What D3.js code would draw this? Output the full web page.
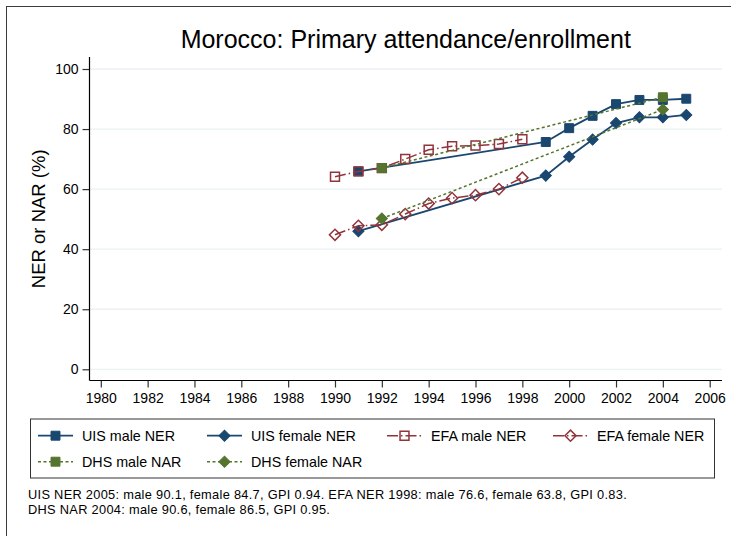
<!DOCTYPE html>
<html>
<head>
<meta charset="utf-8">
<script src="https://cdn.jsdelivr.net/npm/d3@7"></script>
<style>
  body { margin: 0; background: #ffffff; }
  text { font-family: "Liberation Sans", Arial, Helvetica, sans-serif; fill: #000; }
</style>
</head>
<body>
<div id="chart"></div>
<script>
//=========Data=========//
var uisYears = [1991, 1999, 2000, 2001, 2002, 2003, 2004, 2005];
var uisMale = [65.9, 75.7, 80.3, 84.4, 88.3, 89.7, 89.7, 90.1];
var uisFemale = [46.0, 64.5, 70.8, 76.5, 82.0, 83.9, 83.9, 84.7];

var efaYears = [1990, 1991, 1992, 1993, 1994, 1995, 1996, 1997, 1998];
var efaMale = [64.1, 65.9, 67.0, 70.0, 73.1, 74.3, 74.5, 75.0, 76.6];
var efaFemale = [44.8, 47.8, 48.1, 51.7, 55.2, 57.0, 58.0, 60.0, 63.8];

var dhsYears = [1992, 2004];
var dhsMale = [67.0, 90.6];
var dhsFemale = [50.2, 86.5];

var xTicks = d3.range(1980, 2007, 2);
var yTicks = [0, 20, 40, 60, 80, 100];

var titleText = "Morocco: Primary attendance/enrollment";
var yTitle = "NER or NAR (%)";
var noteLines = [
  "UIS NER 2005: male 90.1, female 84.7, GPI 0.94. EFA NER 1998: male 76.6, female 63.8, GPI 0.83.",
  "DHS NAR 2004: male 90.6, female 86.5, GPI 0.95.",
];

//=========Define SVG Area=========//
var svgWidth = 731;
var svgHeight = 536;

var navy = "#1a476f";
var maroon = "#90353b";
var green = "#55752f";

// series in drawing order (later ones on top)
var series = [
  { name: "UIS male NER", years: uisYears, values: uisMale, color: navy, shape: "square", filled: true, dash: null, width: 1.8 },
  { name: "UIS female NER", years: uisYears, values: uisFemale, color: navy, shape: "diamond", filled: true, dash: null, width: 1.8 },
  { name: "EFA male NER", years: efaYears, values: efaMale, color: maroon, shape: "square", filled: false, dash: "11,3,1.5,3", width: 1.5 },
  { name: "EFA female NER", years: efaYears, values: efaFemale, color: maroon, shape: "diamond", filled: false, dash: "11,3,1.5,3", width: 1.5 },
  { name: "DHS male NAR", years: dhsYears, values: dhsMale, color: green, shape: "square", filled: true, dash: "3,2.5", width: 1.5 },
  { name: "DHS female NAR", years: dhsYears, values: dhsFemale, color: green, shape: "diamond", filled: true, dash: "3,2.5", width: 1.5 },
];

var svg = d3
  .select("#chart")
  .append("svg")
  .attr("width", svgWidth)
  .attr("height", svgHeight);

svg.append("rect")
  .attr("width", svgWidth)
  .attr("height", svgHeight)
  .attr("fill", "#ffffff");

// outer frame (right and bottom edges fall outside the picture)
svg.append("rect")
  .attr("x", 6.5)
  .attr("y", 6.5)
  .attr("width", 760)
  .attr("height", 560)
  .attr("fill", "none")
  .attr("stroke", "#3c3c3c")
  .attr("stroke-width", 1);

//=========Scales=========//
var plotLeft = 89.5;
var plotRight = 722;
var plotTop = 57;
var plotBottom = 380.5;

var xScale = d3.scaleLinear().domain([1980, 2006]).range([100.8, 709.7]);
var yScale = d3.scaleLinear().domain([0, 100]).range([369.3, 69]);

// gridlines
svg.append("g")
  .selectAll("line")
  .data(yTicks)
  .enter()
  .append("line")
  .attr("x1", plotLeft)
  .attr("x2", plotRight)
  .attr("y1", (d) => yScale(d))
  .attr("y2", (d) => yScale(d))
  .attr("stroke", "#eaf2f3")
  .attr("stroke-width", 1.3);

// y axis
var leftAxis = d3.axisLeft(yScale).tickValues(yTicks).tickSize(7).tickPadding(4);
var yAxis = svg.append("g")
  .attr("transform", `translate(${plotLeft}, 0)`)
  .call(leftAxis);
yAxis.select(".domain").remove();
yAxis.selectAll(".tick line").attr("stroke", "#333").attr("stroke-width", 1.2);
yAxis.selectAll(".tick text")
  .style("font-size", "14px")
  .style("font-family", "Liberation Sans, Arial, sans-serif")
  .attr("fill", "#000");
svg.append("line")
  .attr("x1", plotLeft).attr("x2", plotLeft)
  .attr("y1", plotTop).attr("y2", plotBottom)
  .attr("stroke", "#000").attr("stroke-width", 1.2);

// x axis
var bottomAxis = d3.axisBottom(xScale).tickValues(xTicks).tickFormat(d3.format("d")).tickSize(7).tickPadding(6);
var xAxis = svg.append("g")
  .attr("transform", `translate(0, ${plotBottom})`)
  .call(bottomAxis);
xAxis.select(".domain").remove();
xAxis.selectAll(".tick line").attr("stroke", "#333").attr("stroke-width", 1.2);
xAxis.selectAll(".tick text")
  .style("font-size", "14px")
  .style("font-family", "Liberation Sans, Arial, sans-serif")
  .attr("fill", "#000");
svg.append("line")
  .attr("x1", plotLeft).attr("x2", plotRight)
  .attr("y1", plotBottom).attr("y2", plotBottom)
  .attr("stroke", "#000").attr("stroke-width", 1.2);

//=========Marker helper=========//
function markerPath(shape) {
  if (shape === "square") {
    return d3.symbol().type(d3.symbolSquare).size(80)();
  }
  // diamond = square turned 45 degrees
  return d3.symbol().type(d3.symbolSquare).size(62)();
}

function drawMarker(g, s, x, y) {
  g.append("path")
    .attr("d", markerPath(s.shape))
    .attr("transform", `translate(${x}, ${y})` + (s.shape === "diamond" ? " rotate(45)" : ""))
    .attr("fill", s.filled ? s.color : "none")
    .attr("stroke", s.color)
    .attr("stroke-width", s.filled ? 1 : 1.5);
}

//=========Lines and markers=========//
var line = d3.line()
  .x((d) => xScale(d[0]))
  .y((d) => yScale(d[1]));

series.forEach(function (s) {
  var pts = s.years.map((yr, i) => [yr, s.values[i]]);
  var g = svg.append("g");
  g.append("path")
    .datum(pts)
    .attr("d", line)
    .attr("fill", "none")
    .attr("stroke", s.color)
    .attr("stroke-width", s.width)
    .attr("stroke-dasharray", s.dash);
  pts.forEach(function (p) {
    drawMarker(g, s, xScale(p[0]), yScale(p[1]));
  });
});

//=========Titles=========//
svg.append("text")
  .attr("x", (plotLeft + plotRight) / 2)
  .attr("y", 48)
  .attr("text-anchor", "middle")
  .style("font-size", "25px")
  .text(titleText);

svg.append("text")
  .attr("transform", "rotate(-90)")
  .attr("x", -(plotTop + plotBottom) / 2)
  .attr("y", 45)
  .attr("text-anchor", "middle")
  .style("font-size", "18.5px")
  .text(yTitle);

//=========Legend=========//
var legendBox = svg.append("g");
legendBox.append("rect")
  .attr("x", 30.5)
  .attr("y", 419)
  .attr("width", 684)
  .attr("height", 59)
  .attr("fill", "#ffffff")
  .attr("stroke", "#333")
  .attr("stroke-width", 1);

var colX = [38, 207, 387, 553];
var rowY = [435.7, 461.7];

series.forEach(function (s, i) {
  var cx = colX[i % 4];
  var cy = rowY[Math.floor(i / 4)];
  var g = legendBox.append("g");
  g.append("line")
    .attr("x1", cx)
    .attr("x2", cx + 35)
    .attr("y1", cy)
    .attr("y2", cy)
    .attr("stroke", s.color)
    .attr("stroke-width", s.width)
    .attr("stroke-dasharray", s.dash);
  drawMarker(g, s, cx + 17.5, cy);
  g.append("text")
    .attr("x", cx + 44)
    .attr("y", cy)
    .attr("dy", "0.36em")
    .style("font-size", "14.3px")
    .text(s.name);
});

//=========Note=========//
svg.append("g")
  .selectAll("text")
  .data(noteLines)
  .enter()
  .append("text")
  .attr("x", 28)
  .attr("y", (d, i) => 499 + i * 15)
  .style("font-size", "12.8px")
  .style("letter-spacing", "0.3px")
  .text((d) => d);
</script>
</body>
</html>
